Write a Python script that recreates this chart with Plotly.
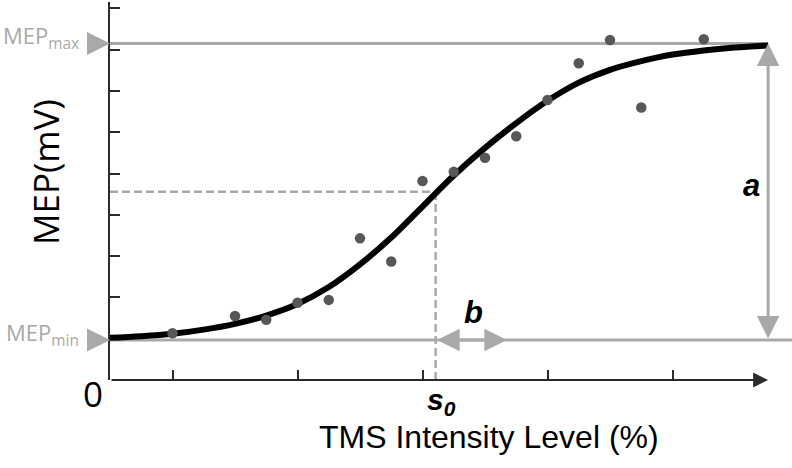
import plotly.graph_objects as go

# ---- data ----
intensity = [10, 20, 25, 30, 35, 40, 45, 50, 55, 60, 65, 70, 75, 80, 85, 95]
mep_values = [1.13, 1.55, 1.46, 1.87, 1.94, 3.43, 2.87, 4.82, 5.04, 5.38, 5.90, 6.78, 7.67, 8.23, 6.60, 8.25]

curve_intensity = [0, 5, 10, 15, 20, 25, 30, 35, 40, 45, 50, 55, 60, 65, 70, 75, 80, 85, 90, 95, 100, 105.3]
curve_mep = [1.02, 1.06, 1.12, 1.22, 1.36, 1.56, 1.84, 2.25, 2.80, 3.45, 4.20, 4.95, 5.62, 6.22, 6.76, 7.20, 7.51, 7.72, 7.88, 7.98, 8.05, 8.10]

mep_min = 0.97
mep_max = 8.15
s0 = 52.1
b_width = 11.4
x_end = 105.3

x_ticks = [10, 30, 50, 70, 90]
y_ticks = [1, 2, 3, 4, 5, 6, 7, 8, 9]

# ---- layout constants ----
W, H = 792, 468
ML, MR, MT, MB = 110, 0, 2, 88
X_RANGE = [0, 109.12]
Y_RANGE = [0, 9.1525]
y_half = (mep_min + mep_max) / 2

GRAY = '#a9a9a9'
DOT = '#575757'
AX = '#2b2b2b'
HUM = 'Open Sans'
ARI = 'Liberation Sans'


def px_to_paper(px, py):
    return (px - ML) / (W - ML - MR), (H - MB - py) / (H - MT - MB)


fig = go.Figure()
fig.add_trace(go.Scatter(x=curve_intensity, y=curve_mep, mode='lines',
                         line=dict(color='black', width=6, shape='spline'),
                         hoverinfo='skip'))
fig.add_trace(go.Scatter(x=intensity, y=mep_values, mode='markers',
                         marker=dict(color=DOT, size=10.5, line=dict(width=0))))

shapes = [
    dict(type='line', xref='x', yref='y', x0=0, x1=x_end, y0=mep_max, y1=mep_max,
         line=dict(color=GRAY, width=3), layer='below'),
    dict(type='line', xref='x', yref='y', x0=0, x1=X_RANGE[1], y0=mep_min, y1=mep_min,
         line=dict(color=GRAY, width=3), layer='below'),
    dict(type='line', xref='x', yref='y', x0=0, x1=s0, y0=y_half, y1=y_half,
         line=dict(color=GRAY, width=2.5, dash='8px,4px'), layer='below'),
    dict(type='line', xref='x', yref='y', x0=s0, x1=s0, y0=0, y1=y_half,
         line=dict(color=GRAY, width=2.5, dash='8px,4px'), layer='below'),
]

ann = []
# x axis with arrow
ann.append(dict(xref='x', yref='y', axref='x', ayref='y', x=x_end, y=0, ax=0, ay=0,
                text='', showarrow=True, arrowhead=2, arrowsize=1.5, arrowwidth=2,
                arrowcolor=AX))
# a arrow
ann.append(dict(xref='x', yref='y', axref='x', ayref='y', x=x_end, y=mep_max, ax=x_end, ay=mep_min,
                text='', showarrow=True, arrowside='end+start', arrowhead=2, startarrowhead=2,
                arrowsize=1.5, startarrowsize=1.5, arrowwidth=3, arrowcolor=GRAY))
# b arrow
ann.append(dict(xref='x', yref='y', axref='x', ayref='y', x=s0 + b_width, y=mep_min, ax=s0, ay=mep_min,
                text='', showarrow=True, arrowside='end+start', arrowhead=2, startarrowhead=2,
                arrowsize=1.5, startarrowsize=1.5, arrowwidth=3, arrowcolor=GRAY))
# left markers for MEPmax / MEPmin
for yv in (mep_max, mep_min):
    ann.append(dict(xref='x', yref='y', x=0, y=yv, ax=-23, ay=0, text='', showarrow=True,
                    arrowhead=2, arrowsize=2.3, arrowwidth=2, arrowcolor=GRAY))
# texts
ann.append(dict(xref='x', yref='y', x=0, y=mep_max, xanchor='right', yanchor='middle',
                xshift=-29, yshift=6, text='MEP<sub>max</sub>', showarrow=False,
                font=dict(family=HUM, size=22, color=GRAY)))
ann.append(dict(xref='x', yref='y', x=0, y=mep_min, xanchor='right', yanchor='middle',
                xshift=-29, yshift=6, text='MEP<sub>min</sub>', showarrow=False,
                font=dict(family=HUM, size=22, color=GRAY)))
ann.append(dict(xref='x', yref='y', x=0, y=0, xanchor='center', yanchor='middle',
                xshift=-17, yshift=-13, text='0', showarrow=False,
                font=dict(family=HUM, size=35, color='black')))
ann.append(dict(xref='x', yref='y', x=s0, y=0, xanchor='center', yanchor='middle',
                xshift=6, yshift=-21, text='s<sub>0</sub>', showarrow=False,
                font=dict(family=ARI, size=30, color='black', weight='bold', style='italic')))
ann.append(dict(xref='x', yref='y', x=x_end, y=y_half, xanchor='center', yanchor='middle',
                xshift=-17, yshift=6, text='a', showarrow=False,
                font=dict(family=ARI, size=31, color='black', weight='bold', style='italic')))
ann.append(dict(xref='x', yref='y', x=s0 + b_width / 2, y=mep_min, xanchor='center', yanchor='middle',
                xshift=2, yshift=27, text='b', showarrow=False,
                font=dict(family=ARI, size=31, color='black', weight='bold', style='italic')))
tx, ty = px_to_paper(489, 437)
ann.append(dict(xref='paper', yref='paper', x=tx, y=ty, xanchor='center', yanchor='middle',
                text='TMS Intensity Level (%)', showarrow=False,
                font=dict(family=ARI, size=32, color='black')))
yx, yy = px_to_paper(45, 172)
ann.append(dict(xref='paper', yref='paper', x=yx, y=yy, xanchor='center', yanchor='middle',
                text='MEP(mV)', textangle=-90, showarrow=False,
                font=dict(family=HUM, size=35, color='black')))

fig.update_layout(
    width=W, height=H,
    margin=dict(l=ML, r=MR, t=MT, b=MB),
    paper_bgcolor='white', plot_bgcolor='white',
    showlegend=False,
    shapes=shapes, annotations=ann,
    xaxis=dict(range=X_RANGE, showgrid=False, zeroline=False, showline=False,
               ticks='inside', tickvals=x_ticks, ticklen=10, tickwidth=1.5, tickcolor=AX,
               showticklabels=False, fixedrange=True),
    yaxis=dict(range=Y_RANGE, showgrid=False, zeroline=False, showline=True,
               linecolor=AX, linewidth=2,
               ticks='inside', tickvals=y_ticks, ticklen=10, tickwidth=2, tickcolor=AX,
               showticklabels=False, fixedrange=True, layer='below traces'),
)

fig.write_html('out.html', config={'displayModeBar': False},
               post_script="document.body.style.margin='0px';document.body.style.overflow='hidden';")
